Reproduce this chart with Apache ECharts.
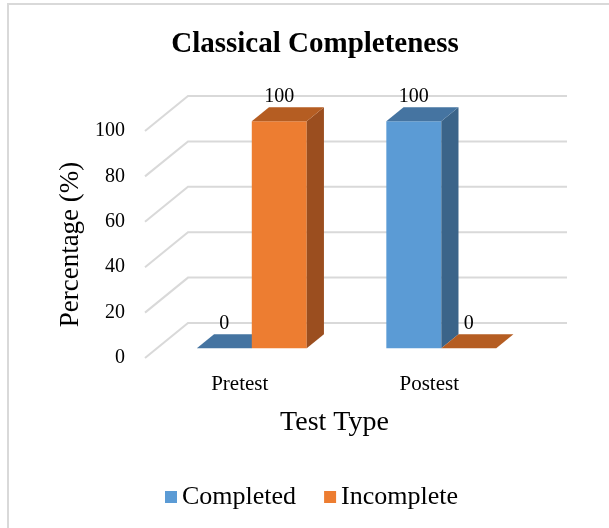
<!DOCTYPE html>
<html>
<head>
<meta charset="utf-8">
<script src="https://cdn.jsdelivr.net/npm/echarts@6/dist/echarts.min.js"></script>
<style>
  html, body { margin: 0; padding: 0; background: #fff; }
  #chart { width: 609px; height: 528px; }
</style>
</head>
<body>
<div id="chart"></div>
<script>
const categories = ["Pretest", "Postest"];
const completed = [0, 100];
const incomplete = [100, 0];
const gridValues = [0, 20, 40, 60, 80, 100];

// 3d look: depth vector of the floor, in pixels
const DX = 43;
const DY = -35;
const FRONT = 0.28; // where the bars start in the depth
const THICK = 0.4; // how deep the bars are
const BAR = 0.29; // bar width as a share of the band

const colors = {
  Completed: { front: "#5B9BD5", side: "#3B6489", top: "#4574A1" },
  Incomplete: { front: "#ED7D31", side: "#9B4E1F", top: "#B55D22" }
};

const font = "Liberation Serif";

function barRenderer(name, side) {
  const c = colors[name];
  return function(params, api) {
    const cat = api.value(0);
    const val = api.value(1);
    const base = api.coord([cat, 0]);
    const top = api.coord([cat, val]);
    const w = api.size([1, 0])[0] * BAR;
    const x0 = (side < 0 ? base[0] - w : base[0]) + DX * FRONT;
    const yb = base[1] + DY * FRONT;
    const yt = top[1] + DY * FRONT;
    const dx = DX * THICK;
    const dy = DY * THICK;
    const children = [];
    if (yb - yt > 0.5) {
      children.push({
        type: "rect",
        shape: { x: x0, y: yt, width: w, height: yb - yt },
        style: { fill: c.front }
      });
      children.push({
        type: "polygon",
        shape: {
          points: [[x0 + w, yt], [x0 + w + dx, yt + dy], [x0 + w + dx, yb + dy], [x0 + w, yb]]
        },
        style: { fill: c.side }
      });
    }
    children.push({
      type: "polygon",
      shape: {
        points: [[x0, yt], [x0 + w, yt], [x0 + w + dx, yt + dy], [x0 + dx, yt + dy]]
      },
      style: { fill: c.top }
    });
    children.push({
      type: "text",
      x: x0 + w / 2,
      y: yt - 14,
      style: {
        text: String(val),
        fill: "#000",
        font: "20px " + font,
        align: "center",
        verticalAlign: "bottom"
      }
    });
    return { type: "group", children: children };
  };
}

function gridRenderer(params, api) {
  const cs = params.coordSys;
  const y = api.coord([0, api.value(0)])[1];
  return {
    type: "polyline",
    shape: {
      points: [[cs.x, y], [cs.x + DX, y + DY], [cs.x + cs.width + DX, y + DY]]
    },
    style: { stroke: "#d9d9d9", lineWidth: 2, fill: null }
  };
}

const chart = echarts.init(document.getElementById("chart"));

const option = {
  backgroundColor: "#fff",
  animation: false,
  title: {
    text: "Classical Completeness",
    left: 310,
    textAlign: "center",
    top: 25,
    textStyle: { fontFamily: font, fontWeight: "bold", fontSize: 29, color: "#000" }
  },
  legend: {
    data: ["Completed", "Incomplete"],
    top: 479,
    left: 160,
    icon: "rect",
    itemWidth: 12,
    itemHeight: 12,
    itemGap: 28,
    textStyle: { fontFamily: font, fontSize: 26, color: "#000" }
  },
  graphic: [
    {
      type: "rect",
      shape: { x: 8, y: 4, width: 700, height: 600 },
      style: { fill: null, stroke: "#d9d9d9", lineWidth: 2 },
      z: 0
    }
  ],
  grid: { left: 145, right: 85, top: 131, bottom: 170 },
  xAxis: {
    type: "category",
    data: categories,
    axisLine: { show: false },
    axisTick: { show: false },
    axisLabel: { fontFamily: font, fontSize: 21, color: "#000", margin: 16 },
    name: "Test Type",
    nameLocation: "middle",
    nameGap: 51,
    nameTextStyle: { fontFamily: font, fontSize: 28, color: "#000" }
  },
  yAxis: {
    type: "value",
    min: 0,
    max: 100,
    interval: 20,
    axisLine: { show: false },
    axisTick: { show: false },
    splitLine: { show: false },
    axisLabel: { fontFamily: font, fontSize: 20, color: "#000", margin: 20 },
    name: "Percentage (%)",
    nameLocation: "middle",
    nameGap: 57,
    nameTextStyle: { fontFamily: font, fontSize: 27, color: "#000" }
  },
  series: [
    {
      name: "grid",
      type: "custom",
      renderItem: gridRenderer,
      data: gridValues,
      encode: { y: 0 },
      silent: true,
      z: 1
    },
    {
      name: "Completed",
      type: "custom",
      itemStyle: { color: colors.Completed.front },
      renderItem: barRenderer("Completed", -1),
      data: categories.map((c, i) => [i, completed[i]]),
      encode: { x: 0, y: 1 },
      z: 2
    },
    {
      name: "Incomplete",
      type: "custom",
      itemStyle: { color: colors.Incomplete.front },
      renderItem: barRenderer("Incomplete", 1),
      data: categories.map((c, i) => [i, incomplete[i]]),
      encode: { x: 0, y: 1 },
      z: 2
    }
  ]
};

chart.setOption(option);
</script>
</body>
</html>
